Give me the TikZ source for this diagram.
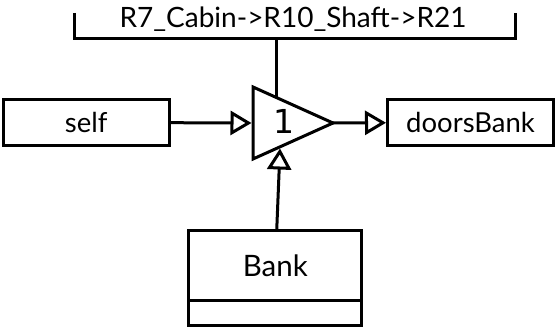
\documentclass[tikz,border=0pt]{standalone}
\usepackage{fontspec}
\setmainfont{Lato}
\newfontfamily\digitfont{DejaVu Sans}
\usetikzlibrary{arrows.meta,positioning}

\begin{document}
\begin{tikzpicture}[x=1pt, y=-1pt, line width=3pt,
    every node/.style={font=\fontsize{27.5}{32}\selectfont},
    classbox/.style={draw, minimum height=45.5pt, inner sep=0pt},
    flow/.style={-{Triangle[open, fill=white, length=21pt, width=24pt, line width=3pt]}}]
  \useasboundingbox (0,0) rectangle (556,328);
  % relation bracket
  \coordinate (brkL) at (74,13);
  \coordinate (brkR) at (515,13);
  \coordinate (brk) at (276,39);
  \draw (brkL) -- (74,39) -- (515,39) -- (brkR);
  \node[font=\fontsize{28}{32}\selectfont, anchor=base] (rel) at (293,28)
    {R7\_Cabin->R10\_Shaft->R21};
  % instances
  \node[classbox, minimum width=166pt] (self) at (86.2,122.4) {self};
  \node[classbox, minimum width=166pt] (doors) at (470.5,122.4) {doorsBank};
  \node[classbox, minimum width=173pt, minimum height=70pt,
        font=\fontsize{29.5}{34}\selectfont] (bank) at (275.3,265.7) {Bank};
  \node[classbox, minimum width=173pt, minimum height=24.3pt,
        below=-3pt of bank] (bankattr) {};
  % multiplicity triangle
  \draw (253,87) -- (253,159) -- (333,123) -- cycle;
  \node[font=\digitfont\fontsize{33}{36}\selectfont] (mult) at (284,121) {1};
  \coordinate (in) at (251.5,123);
  \coordinate (out) at (333,123);
  \coordinate (bot) at (280,148.5);
  \coordinate (topin) at (276,97);
  % connectors
  \draw (brk) -- (topin);
  \draw[flow] (self) -- (in);
  \draw[flow] (out) -- (doors);
  \draw[flow] (bank) -- (bot);
\end{tikzpicture}
\end{document}
